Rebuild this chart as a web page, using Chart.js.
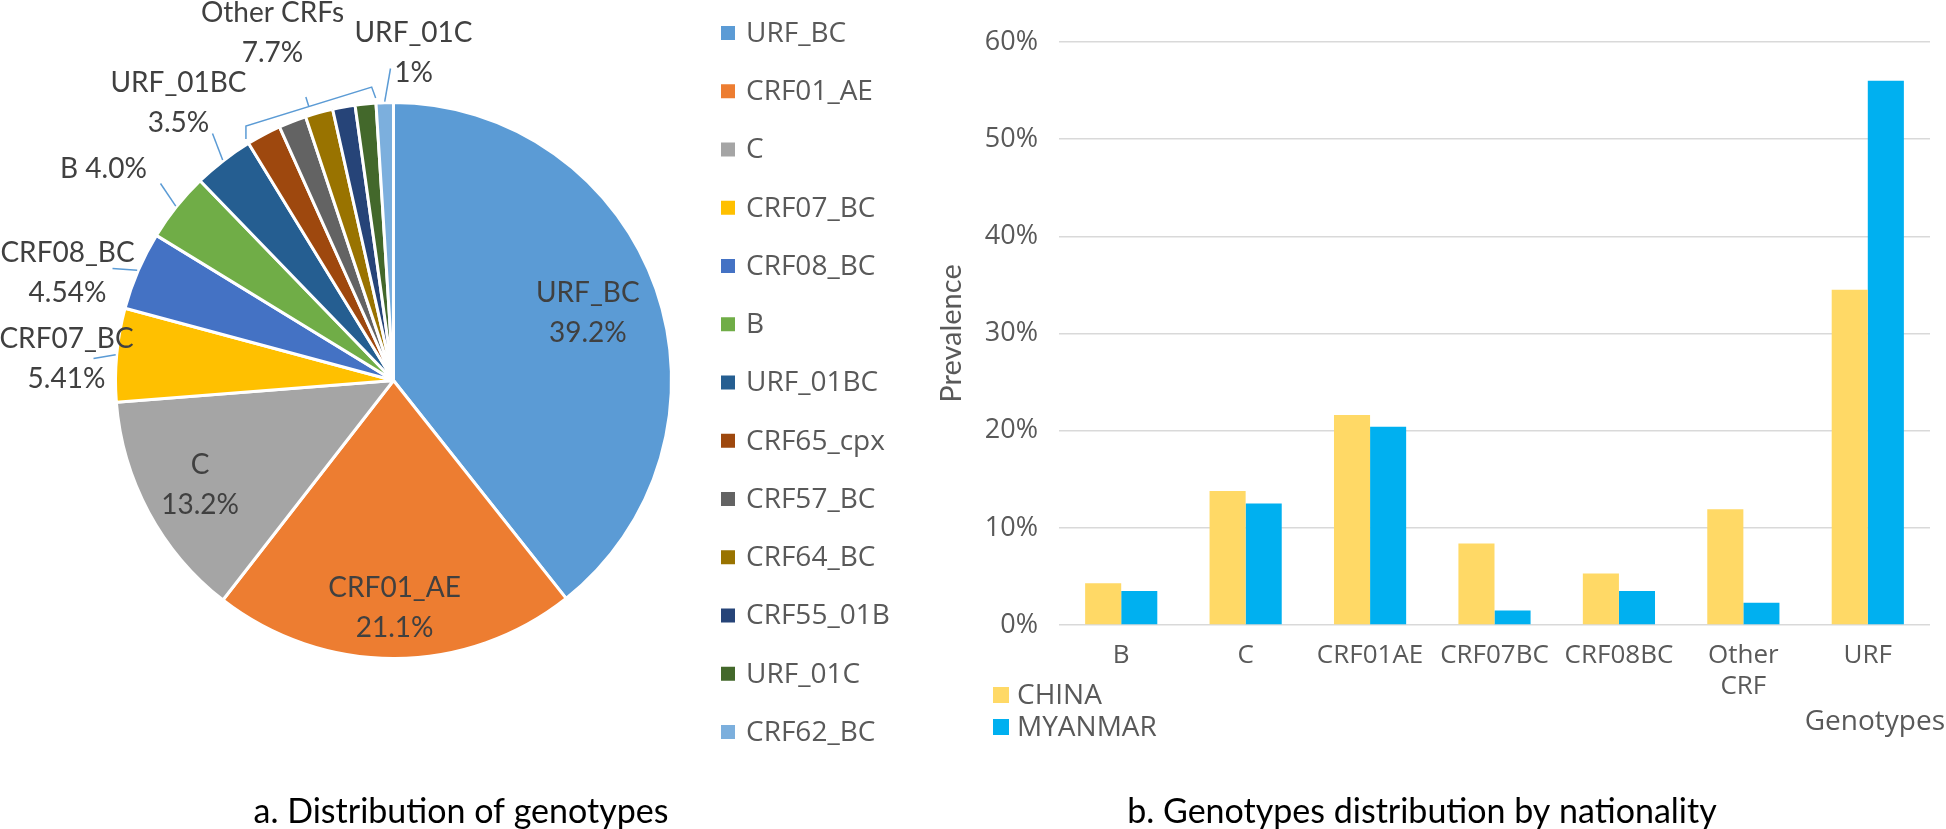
<!DOCTYPE html>
<html>
<head>
<meta charset="utf-8">
<script src="https://cdn.jsdelivr.net/npm/chart.js@4/dist/chart.umd.min.js"></script>
<style>
  html, body { margin: 0; padding: 0; background: #ffffff; width: 1946px; height: 829px; overflow: hidden; }
  #pie { position: absolute; left: 0; top: 0; }
  #bar { position: absolute; left: 930px; top: 0; }
</style>
</head>
<body>
<canvas id="pie" width="930" height="829"></canvas>
<canvas id="bar" width="1016" height="829"></canvas>
<script>
// ---------- data: panel a (pie) ----------
const genotypeLabels = ['URF_BC', 'CRF01_AE', 'C', 'CRF07_BC', 'CRF08_BC', 'B', 'URF_01BC',
                        'CRF65_cpx', 'CRF57_BC', 'CRF64_BC', 'CRF55_01B', 'URF_01C', 'CRF62_BC'];
const genotypeShares = [39.2, 21.1, 13.2, 5.41, 4.54, 4.0, 3.5, 2.0, 1.6, 1.6, 1.3, 1.2, 1.0];
const genotypeColors = ['#5B9BD5', '#ED7D31', '#A5A5A5', '#FFC000', '#4472C4', '#70AD47', '#255E91',
                        '#9E480E', '#636363', '#997300', '#264478', '#43682B', '#7CAFDD'];
const insideLabels = [['URF_BC', '39.2%'], ['CRF01_AE', '21.1%'], ['C', '13.2%']];
const outsideLabels = [['CRF07_BC', '5.41%'], ['CRF08_BC', '4.54%'], ['B 4.0%'], ['URF_01BC', '3.5%'],
                       ['Other CRFs', '7.7%'], ['URF_01C', '1%']];
const pieTitle = 'a. Distribution of genotypes';

// ---------- data: panel b (bars) ----------
const barCategories = ['B', 'C', 'CRF01AE', 'CRF07BC', 'CRF08BC', ['Other', 'CRF'], 'URF'];
const chinaValues   = [4.3, 13.8, 21.6, 8.4, 5.3, 11.9, 34.5];
const myanmarValues = [3.5, 12.5, 20.4, 1.5, 3.5, 2.3, 56.0];
const seriesNames = ['CHINA', 'MYANMAR'];
const yTicks = [0, 10, 20, 30, 40, 50, 60];
const yTickLabels = ['0%', '10%', '20%', '30%', '40%', '50%', '60%'];
const yAxisTitle = 'Prevalence';
const xAxisTitle = 'Genotypes';
const barTitle = 'b. Genotypes distribution by nationality';

// ---------- layout / style (not data) ----------
const LABEL_FONT = 'Lato';
const AXIS_FONT = '"Open Sans"';
const LINE = 40;
const insideLayout = [{ slice: 0, r: 0.74 }, { slice: 1, r: 0.82 }, { slice: 2, r: 0.79 }];
const outsideLayout = [
  { slice: 3, tx: -327, ty: -42, end: [-300, -22] },
  { slice: 4, tx: -326, ty: -128, end: [-281, -112] },
  { slice: 5, tx: -290, ty: -212, end: [-233, -197] },
  { slice: 6, tx: -215, ty: -298, end: [-181, -247] },
  { bracket: [7, 11], tx: -121, ty: -368 },
  { slice: 12, tx: 20, ty: -348, end: [-3, -312] }
];
const leaderColor = '#5B9BD5';

const pieDeco = {
  id: 'pieDeco',
  afterDatasetsDraw(chart) {
    const ctx = chart.ctx;
    const arcs = chart.getDatasetMeta(0).data;
    const cx = arcs[0].x, cy = arcs[0].y, R = arcs[0].outerRadius;
    const polar = (a, r) => [cx + Math.cos(a) * r, cy + Math.sin(a) * r];
    ctx.save();
    ctx.font = '28px ' + LABEL_FONT;
    ctx.fillStyle = '#404040';
    ctx.textAlign = 'center';
    ctx.textBaseline = 'middle';
    insideLayout.forEach((L, i) => {
      const a = arcs[L.slice];
      const m = (a.startAngle + a.endAngle) / 2;
      const [x, y] = polar(m, R * L.r);
      const lines = insideLabels[i];
      lines.forEach((t, k) => ctx.fillText(t, x, y + (k - (lines.length - 1) / 2) * LINE));
    });
    outsideLayout.forEach((L, i) => {
      const lines = outsideLabels[i];
      ctx.fillStyle = '#404040';
      lines.forEach((t, k) => ctx.fillText(t, cx + L.tx, cy + L.ty + k * LINE));
      ctx.strokeStyle = leaderColor;
      ctx.lineWidth = 1.5;
      ctx.beginPath();
      if (L.bracket) {
        const a0 = arcs[L.bracket[0]].startAngle, a1 = arcs[L.bracket[1]].endAngle;
        const p1 = polar(a0, R + 5), p2 = [p1[0], p1[1] - 13];
        const p4 = polar(a1, R + 5), p3 = [p4[0] - 4, p4[1] - 11];
        ctx.moveTo(p1[0], p1[1]); ctx.lineTo(p2[0], p2[1]); ctx.lineTo(p3[0], p3[1]); ctx.lineTo(p4[0], p4[1]);
        const mx = (p2[0] + p3[0]) / 2, my = (p2[1] + p3[1]) / 2;
        let nx = -(p3[1] - p2[1]), ny = (p3[0] - p2[0]);
        const nl = Math.hypot(nx, ny); nx /= nl; ny /= nl;
        if ((mx + nx - cx) ** 2 + (my + ny - cy) ** 2 < (mx - cx) ** 2 + (my - cy) ** 2) { nx = -nx; ny = -ny; }
        ctx.moveTo(mx, my); ctx.lineTo(mx + nx * 10, my + ny * 10);
      } else {
        const a = arcs[L.slice];
        const m = (a.startAngle + a.endAngle) / 2;
        const s = polar(m, R + 1);
        ctx.moveTo(s[0], s[1]); ctx.lineTo(cx + L.end[0], cy + L.end[1]);
      }
      ctx.stroke();
    });
    // legend
    ctx.textAlign = 'left';
    ctx.font = '28px ' + AXIS_FONT;
    genotypeLabels.forEach((t, i) => {
      const y = 33 + i * 58.25;
      ctx.fillStyle = genotypeColors[i];
      ctx.fillRect(721, y - 7, 14, 14);
      ctx.fillStyle = '#595959';
      ctx.fillText(t, 746, y + 1);
    });
    // title
    ctx.textAlign = 'center';
    ctx.fillStyle = '#000000';
    ctx.font = '34px ' + LABEL_FONT;
    ctx.fillText(pieTitle, 461, 812);
    ctx.restore();
  }
};

const barDeco = {
  id: 'barDeco',
  afterDraw(chart) {
    const ctx = chart.ctx;
    const area = chart.chartArea;
    ctx.save();
    ctx.textBaseline = 'middle';
    ctx.font = '28px ' + AXIS_FONT;
    ctx.textAlign = 'right';
    ctx.fillStyle = '#595959';
    ctx.fillText(xAxisTitle, area.right + 15, 722);
    ctx.textAlign = 'left';
    chart.data.datasets.forEach((ds, i) => {
      const y = 695 + i * 32;
      ctx.fillStyle = ds.backgroundColor;
      ctx.fillRect(63, y - 8, 16, 16);
      ctx.fillStyle = '#595959';
      ctx.fillText(ds.label, 87, y + 1);
    });
    ctx.textAlign = 'center';
    ctx.fillStyle = '#000000';
    ctx.font = '34px ' + LABEL_FONT;
    ctx.fillText(barTitle, 492, 812);
    ctx.restore();
  }
};

function build() {
  new Chart(document.getElementById('pie'), {
    type: 'pie',
    data: {
      labels: genotypeLabels,
      datasets: [{ data: genotypeShares, backgroundColor: genotypeColors, borderColor: '#ffffff', borderWidth: 3 }]
    },
    options: {
      responsive: false,
      animation: false,
      layout: { padding: { left: 114, top: 101, right: 257, bottom: 169 } },
      plugins: { legend: { display: false }, tooltip: { enabled: false } }
    },
    plugins: [pieDeco]
  });

  new Chart(document.getElementById('bar'), {
    type: 'bar',
    data: {
      labels: barCategories,
      datasets: [
        { label: seriesNames[0], data: chinaValues, backgroundColor: '#FFD966', categoryPercentage: 0.58, barPercentage: 1.0 },
        { label: seriesNames[1], data: myanmarValues, backgroundColor: '#00B0F0', categoryPercentage: 0.58, barPercentage: 1.0 }
      ]
    },
    options: {
      responsive: false,
      animation: false,
      layout: { padding: { left: 0, right: 16, top: 42, bottom: 0 } },
      plugins: { legend: { display: false }, tooltip: { enabled: false } },
      scales: {
        x: {
          grid: { display: false, drawTicks: false },
          border: { display: false },
          ticks: { font: { family: 'Open Sans', size: 26, lineHeight: 1.19 }, color: '#595959', padding: 15, maxRotation: 0, autoSkip: false },
          afterFit(s) { s.height = 204; }
        },
        y: {
          min: yTicks[0], max: yTicks[yTicks.length - 1],
          ticks: {
            stepSize: 10, font: { family: 'Open Sans', size: 27 }, color: '#595959', padding: 21,
            callback: (v) => { const i = yTicks.indexOf(v); return i >= 0 ? yTickLabels[i] : ''; }
          },
          grid: { color: '#D9D9D9', lineWidth: 1.5, drawTicks: false },
          border: { display: false },
          title: { display: true, text: yAxisTitle, font: { family: 'Lato', size: 29 }, color: '#595959', padding: { top: 4, bottom: 0 } },
          afterFit(s) { s.width = 129; }
        }
      }
    },
    plugins: [barDeco]
  });
}

Promise.all([
  document.fonts.load('28px Lato'),
  document.fonts.load('28px "Open Sans"')
]).then(build, build);
</script>
</body>
</html>
